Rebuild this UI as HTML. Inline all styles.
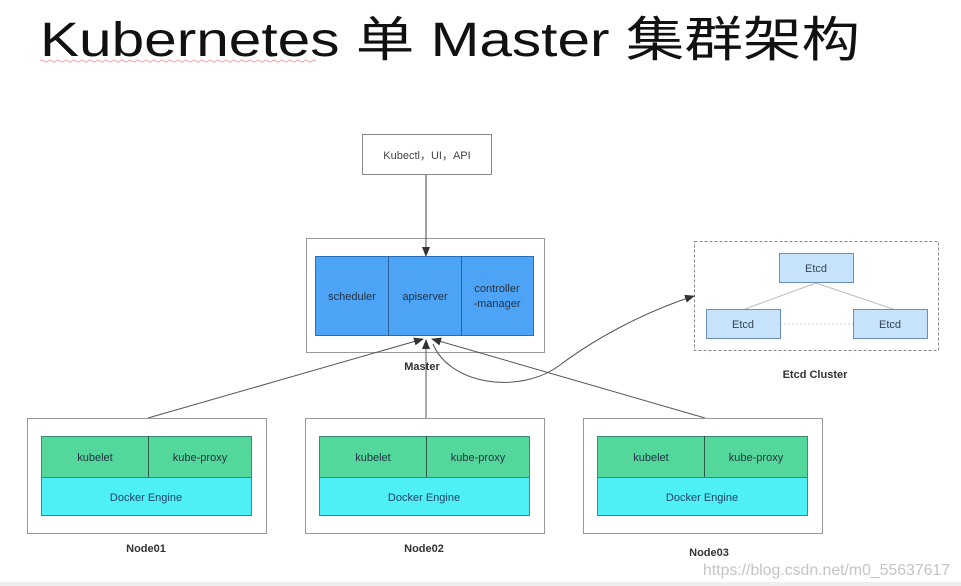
<!DOCTYPE html>
<html><head><meta charset="utf-8"><style>
html,body{margin:0;padding:0;background:#fff;}
svg{display:block;}
text{font-family:"Liberation Sans","Noto Sans CJK SC",sans-serif;}
</style></head><body>
<svg width="961" height="586" viewBox="0 0 961 586" xmlns="http://www.w3.org/2000/svg">
<defs>
<marker id="ah" markerWidth="10" markerHeight="10" refX="9" refY="5" orient="auto" markerUnits="userSpaceOnUse">
<path d="M0,1 L10,5 L0,9 z" fill="#333"/></marker>
</defs>
<rect width="961" height="586" fill="#fff"/>
<rect x="0" y="582" width="961" height="4" fill="#eee"/>
<!-- title -->
<text x="40" y="56" font-size="48" fill="#111" textLength="820" lengthAdjust="spacingAndGlyphs">Kubernetes 单 Master 集群架构</text>
<path d="M40,61 q2,-2 4,0 t4,0 t4,0 t4,0 t4,0 t4,0 t4,0 t4,0 t4,0 t4,0 t4,0 t4,0 t4,0 t4,0 t4,0 t4,0 t4,0 t4,0 t4,0 t4,0 t4,0 t4,0 t4,0 t4,0 t4,0 t4,0 t4,0 t4,0 t4,0 t4,0 t4,0 t4,0 t4,0 t4,0 t4,0 t4,0 t4,0 t4,0 t4,0 t4,0 t4,0 t4,0 t4,0 t4,0 t4,0 t4,0 t4,0 t4,0 t4,0 t4,0 t4,0 t4,0 t4,0 t4,0 t4,0 t4,0 t4,0 t4,0 t4,0 t4,0 t4,0 t4,0 t4,0 t4,0 t4,0 t4,0 t4,0 t4,0 t4,0" fill="none" stroke="#e88" stroke-width="0.8"/>

<!-- kubectl -->
<rect x="362.5" y="134.5" width="129" height="40" fill="#fff" stroke="#888"/>
<text x="427" y="159" font-size="11" fill="#444" text-anchor="middle">Kubectl，UI，API</text>

<!-- master -->
<rect x="306.5" y="238.5" width="238" height="114" fill="#fff" stroke="#999"/>
<rect x="315.5" y="256.5" width="218" height="79" fill="#4da3f5" stroke="#2a6fb5"/>
<line x1="388.5" y1="256" x2="388.5" y2="336" stroke="#2a5d95"/>
<line x1="461.5" y1="256" x2="461.5" y2="336" stroke="#2a5d95"/>
<text x="352" y="300" font-size="11" fill="#234" text-anchor="middle">scheduler</text>
<text x="425" y="300" font-size="11" fill="#234" text-anchor="middle">apiserver</text>
<text x="497" y="292" font-size="11" fill="#234" text-anchor="middle">controller</text>
<text x="497" y="307" font-size="11" fill="#234" text-anchor="middle">-manager</text>
<text x="422" y="370" font-size="11" font-weight="bold" fill="#333" text-anchor="middle">Master</text>
<line x1="426" y1="175" x2="426" y2="256" stroke="#444" marker-end="url(#ah)"/>

<!-- etcd cluster -->
<rect x="694.5" y="241.5" width="244" height="109" fill="none" stroke="#888" stroke-dasharray="3,2"/>
<line x1="816" y1="283" x2="745" y2="309" stroke="#bbb"/>
<line x1="816" y1="283" x2="893" y2="309" stroke="#bbb"/>
<line x1="780" y1="324" x2="853" y2="324" stroke="#ccc" stroke-dasharray="2,2"/>
<rect x="779.5" y="253.5" width="74" height="29" fill="#c7e2fb" stroke="#6a8fb8"/>
<rect x="706.5" y="309.5" width="74" height="29" fill="#c7e2fb" stroke="#6a8fb8"/>
<rect x="853.5" y="309.5" width="74" height="29" fill="#c7e2fb" stroke="#6a8fb8"/>
<text x="816" y="272" font-size="11" fill="#345" text-anchor="middle">Etcd</text>
<text x="743" y="328" font-size="11" fill="#345" text-anchor="middle">Etcd</text>
<text x="890" y="328" font-size="11" fill="#345" text-anchor="middle">Etcd</text>
<text x="815" y="378" font-size="11" font-weight="bold" fill="#333" text-anchor="middle">Etcd Cluster</text>

<!-- connectors -->
<line x1="148" y1="418" x2="423" y2="339" stroke="#555" marker-end="url(#ah)"/>
<line x1="426" y1="418" x2="426" y2="340" stroke="#555" marker-end="url(#ah)"/>
<line x1="705" y1="418" x2="432" y2="339" stroke="#555" marker-end="url(#ah)"/>
<path d="M433,344 C450,385 520,395 560,365 C600,335 650,310 694,296" fill="none" stroke="#555" marker-end="url(#ah)"/>

<!-- nodes -->
<g id="n1">
<rect x="27.5" y="418.5" width="239" height="115" fill="#fff" stroke="#999"/>
<rect x="41.5" y="436.5" width="210" height="79" fill="#4ef0f5" stroke="#3a8a9a"/>
<rect x="41.5" y="436.5" width="210" height="41" fill="#53d79a" stroke="#3a8a7a"/>
<line x1="148.5" y1="436" x2="148.5" y2="477" stroke="#2a5a4a"/>
<text x="95" y="461" font-size="11" fill="#234" text-anchor="middle">kubelet</text>
<text x="200" y="461" font-size="11" fill="#234" text-anchor="middle">kube-proxy</text>
<text x="146" y="501" font-size="11" fill="#246" text-anchor="middle">Docker Engine</text>
</g>
<use href="#n1" x="278"/>
<use href="#n1" x="556"/>
<text x="146" y="552" font-size="11" font-weight="bold" fill="#333" text-anchor="middle">Node01</text>
<text x="424" y="552" font-size="11" font-weight="bold" fill="#333" text-anchor="middle">Node02</text>
<text x="709" y="556" font-size="11" font-weight="bold" fill="#333" text-anchor="middle">Node03</text>

<text x="703" y="575" font-size="16" fill="#c4c4c4" textLength="247" lengthAdjust="spacingAndGlyphs">https://blog.csdn.net/m0_55637617</text>
</svg>
</body></html>
